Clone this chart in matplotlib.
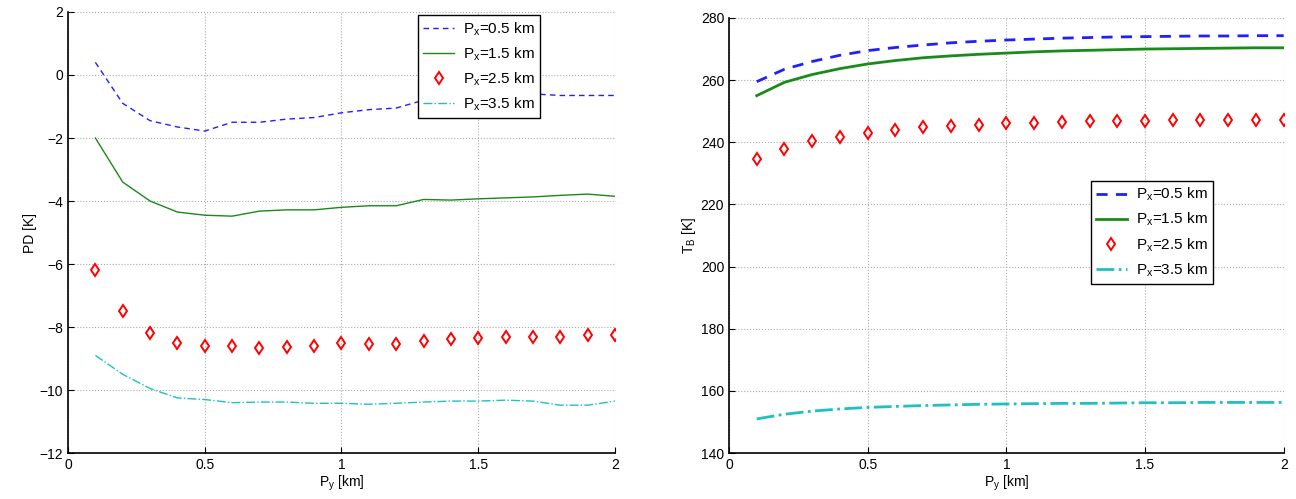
import matplotlib
matplotlib.use('Agg')
import matplotlib.pyplot as plt
import numpy as np

plt.rcParams['font.family'] = ['Liberation Sans', 'DejaVu Sans']
plt.rcParams['mathtext.fontset'] = 'custom'
plt.rcParams['mathtext.rm'] = 'Liberation Sans'
plt.rcParams['mathtext.it'] = 'Liberation Sans'

# horizontal offset P_y [km]
py = np.round(np.arange(1, 21) * 0.1, 1)

labels = [r'P$_\mathregular{x}$=0.5 km', r'P$_\mathregular{x}$=1.5 km',
          r'P$_\mathregular{x}$=2.5 km', r'P$_\mathregular{x}$=3.5 km']

# polarization difference PD [K]
pd_05 = [0.4, -0.9, -1.45, -1.65, -1.78, -1.5, -1.5, -1.4, -1.35, -1.2,
         -1.1, -1.05, -0.8, -0.75, -0.7, -0.6, -0.6, -0.65, -0.65, -0.65]
pd_15 = [-2.0, -3.4, -4.0, -4.35, -4.45, -4.48, -4.32, -4.28, -4.28, -4.2,
         -4.15, -4.15, -3.95, -3.97, -3.93, -3.9, -3.87, -3.82, -3.78, -3.85]
pd_25 = [-6.2, -7.5, -8.2, -8.5, -8.6, -8.6, -8.65, -8.62, -8.6, -8.52,
         -8.55, -8.55, -8.43, -8.37, -8.35, -8.3, -8.3, -8.3, -8.25, -8.25]
pd_35 = [-8.9, -9.5, -9.95, -10.25, -10.3, -10.4, -10.38, -10.38, -10.42, -10.42,
         -10.45, -10.42, -10.38, -10.35, -10.35, -10.32, -10.35, -10.48, -10.48, -10.35]

# brightness temperature T_B [K]
tb_05 = [259.5, 263.5, 266.0, 268.0, 269.5, 270.5, 271.3, 272.0, 272.5, 272.9,
         273.2, 273.5, 273.7, 273.9, 274.0, 274.1, 274.2, 274.2, 274.3, 274.3]
tb_15 = [255.0, 259.3, 261.8, 263.7, 265.2, 266.3, 267.2, 267.8, 268.3, 268.7,
         269.1, 269.4, 269.6, 269.8, 270.0, 270.1, 270.2, 270.3, 270.4, 270.4]
tb_25 = [234.5, 238.0, 240.3, 241.8, 243.0, 244.0, 244.8, 245.2, 245.7, 246.1,
         246.3, 246.6, 246.8, 246.9, 247.0, 247.1, 247.1, 247.2, 247.3, 247.3]
tb_35 = [151.0, 152.5, 153.5, 154.2, 154.7, 155.0, 155.3, 155.5, 155.7, 155.8,
         155.9, 156.0, 156.0, 156.1, 156.2, 156.2, 156.3, 156.3, 156.3, 156.3]


def draw(ax, series, lw):
    ax.plot(py, series[0], '--', color='#2020ff', lw=lw, dashes=(4, 3), label=labels[0])
    ax.plot(py, series[1], '-', color='#1a8a1a', lw=lw, label=labels[1])
    ax.plot(py, series[2], 'd', color='red', mfc='none', mew=1.4, ms=6.5, label=labels[2])
    ax.plot(py, series[3], '-.', color='#20c0c0', lw=lw, label=labels[3])
    ax.set_xlim(0, 2)
    ax.set_xticks([0, 0.5, 1, 1.5, 2])
    ax.set_xticklabels(['0', '0.5', '1', '1.5', '2'])
    ax.grid(True, linestyle=':', color='#aaaaaa', lw=0.8)
    ax.tick_params(direction='in', labelsize=10, length=4)
    ax.set_xlabel(r'P$_\mathregular{y}$ [km]', fontsize=10, labelpad=1)
    ax.spines['top'].set_visible(False)
    ax.spines['right'].set_visible(False)
    for s in ax.spines.values():
        s.set_linewidth(1.2)


def add_legend(ax, anchor, loc):
    ax.legend(loc=loc, bbox_to_anchor=anchor, fontsize=11,
              frameon=True, fancybox=False, edgecolor='black', framealpha=1,
              handlelength=2.0, labelspacing=0.5, borderpad=0.35,
              handletextpad=0.6, borderaxespad=0)


fig = plt.figure(figsize=(12.96, 4.99), dpi=100)
ax1 = fig.add_axes([0.0525, 0.092, 0.422, 0.884])
ax2 = fig.add_axes([0.5625, 0.092, 0.428, 0.872])

draw(ax1, [pd_05, pd_15, pd_25, pd_35], 1.0)
ax1.set_ylim(-12, 2)
ax1.set_yticks(range(-12, 3, 2))
ax1.set_yticklabels(['\u221212', '\u221210', '\u22128', '\u22126', '\u22124', '\u22122', '0', '2'])
ax1.set_ylabel('PD [K]', fontsize=10, labelpad=2)
add_legend(ax1, (0.64, 0.993), 'upper left')

draw(ax2, [tb_05, tb_15, tb_25, tb_35], 2.0)
ax2.set_ylim(140, 280)
ax2.set_yticks(range(140, 281, 20))
ax2.set_ylabel(r'T$_\mathregular{B}$ [K]', fontsize=10, labelpad=2)
add_legend(ax2, (0.652, 0.626), 'upper left')

fig.savefig('out.png', dpi=100)
